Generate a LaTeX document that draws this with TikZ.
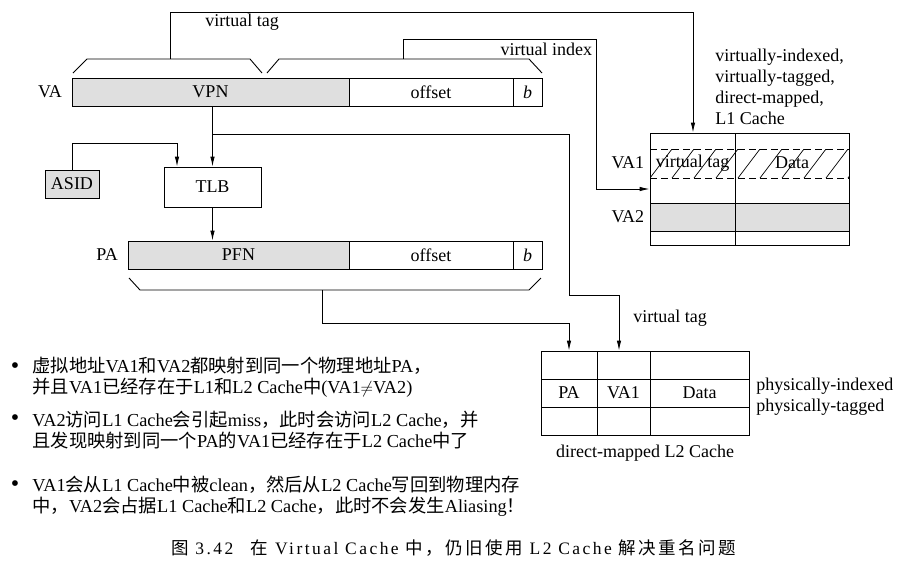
\documentclass[tikz,border=0pt]{standalone}
\usepackage{fontspec}
\setmainfont{Liberation Serif}
\newfontfamily\cjk{Noto Sans CJK SC}
\newfontfamily\capcjk[LetterSpace=14]{Noto Sans CJK SC}
\newfontfamily\caplat[LetterSpace=14]{Liberation Serif}
\usepackage{tikz}
\usetikzlibrary{positioning}
\usetikzlibrary{arrows.meta}
\newcommand{\zh}[1]{{\cjk #1}}
\newcommand{\capzh}[1]{{\capcjk #1}}

\begin{document}
\begin{tikzpicture}[x = 1pt, y = -1pt, line width = 0.9pt,
        >= {Latex[length = 10pt, width = 4.5pt]},
        font = \fontsize{18}{20.7}\selectfont,
        field/.style = {draw = black, minimum height = 28, inner sep = 0},
        greyfield/.style = {field, fill = gray!25},
        note/.style = {anchor = west, align = left, inner sep = 0,
            font = \fontsize{18.3}{20.6}\selectfont},
        dot/.style = {font = \fontsize{24}{24}\selectfont, inner sep = 0}]

        \useasboundingbox (0,0) rectangle (906,566);

        \node (vpn)[greyfield, minimum width = 277] at (210.5,92) {VPN};
        \node (voff)[field, minimum width = 164] at (431,92) {offset};
        \node (vb)[field, minimum width = 29] at (527.5,92) {\textit{b}};
        \node (va)[left = 6pt of vpn] {VA};

        \node (tlb)[field, minimum width = 97, minimum height = 40] at (212.5,187) {TLB};
        \node (asid)[greyfield, minimum width = 54] at (72,184) {ASID};

        \node (pfn)[greyfield, minimum width = 221] at (238.5,255) {PFN};
        \node (poff)[field, minimum width = 164] at (431,255) {offset};
        \node (pb)[field, minimum width = 29] at (527.5,255) {\textit{b}};
        \node (pa)[left = 6pt of pfn] {PA};

        % L1 cache
        \draw[fill = gray!25] (650,203) rectangle (849,231);
        \begin{scope}
            \clip (650,149) rectangle (849,178);
            \foreach \hx in {628,650,...,850}
                \draw[line width = 0.7pt] (\hx,178) -- (\hx+22,149);
        \end{scope}
        \draw[dashed, dash pattern = on 7pt off 4pt] (650,149) -- (849,149);
        \draw[dashed, dash pattern = on 7pt off 4pt] (650,178) -- (849,178);
        \node (l1)[field, minimum width = 199, minimum height = 112] at (749.5,189) {};
        \draw (735,133) -- (735,245);
        \node (l1tag) at (692.5,163) {virtual tag};
        \node (l1data) at (792,163) {Data};
        \node (va1)[anchor = east] at (648,163) {VA1};
        \node (va2)[anchor = east] at (648,217) {VA2};
        \node (l1txt)[anchor = north west, align = left, inner sep = 0] at (715,49)
            {virtually-indexed,\\virtually-tagged,\\direct-mapped,\\L1 Cache};

        % L2 cache
        \node (l2)[field, minimum width = 208, minimum height = 84] at (645,393) {};
        \draw (541,379) -- (749,379);
        \draw (541,407) -- (749,407);
        \draw (597,351) -- (597,435);
        \draw (650,351) -- (650,435);
        \node (l2pa) at (569,393) {PA};
        \node (l2va) at (623.5,393) {VA1};
        \node (l2data) at (699.5,393) {Data};
        \node (l2txt)[below = 6pt of l2] {direct-mapped L2 Cache};
        \node (l2side)[anchor = west, align = left, inner sep = 0] at (756,397)
            {physically-indexed\\physically-tagged};

        % brackets
        \draw (73,73) -- (87,59) -- (250,59) -- (262,73);
        \draw (267,73) -- (279,59) -- (529,59) -- (542,73);
        \draw (129,278) -- (140,290) -- (529,290) -- (541,278);

        \coordinate (tagtop) at (170,59);
        \coordinate (tagcorner) at (693,12);
        \coordinate (idxtop) at (403,59);
        \coordinate (idxcorner) at (596,39);
        \coordinate (asidturn) at (177,143);
        \coordinate (br) at (212.5,134);
        \coordinate (brA) at (569,134);
        \coordinate (brB) at (619,295);
        \coordinate (pabot) at (322,290);
        \coordinate (paturn) at (569,323);

        \draw[->] (tagtop) |- (tagcorner) -- (tagcorner |- l1.north);
        \node (tagtxt) at (242,22) {virtual tag};
        \draw[->] (idxtop) |- (idxcorner) |- (l1.west);
        \node (idxtxt)[anchor = east] at (596,49) {virtual index};

        \draw[->] (vpn.south -| tlb.north) -- (tlb.north);
        \draw[->] (asid.north) |- (asidturn) -- (asidturn |- tlb.north);
        \draw[->] (tlb.south) -- (tlb.south |- pfn.north);
        \draw[->] (br) -- (brA) |- (brB) -- (brB |- l2.north);
        \draw[->] (pabot) |- (paturn) -- (paturn |- l2.north);
        \node (l2tagtxt) at (670,318) {virtual tag};

        % notes
        \node (dot1)[dot] at (15,368) {\textbullet};
        \node (note1)[note] at (32,377)
            {\zh{虚拟地址}VA1\zh{和}VA2\zh{都映射到同一个物理地址}PA\zh{，}\\
             \zh{并且}VA1\zh{已经存在于}L1\zh{和}L2 Cache\zh{中}(VA1$\neq$VA2)};
        \node (dot2)[dot] at (15,420) {\textbullet};
        \node (note2)[note] at (32,430)
            {VA2\zh{访问}L1 Cache\zh{会引起}miss\zh{，此时会访问}L2 Cache\zh{，并}\\
             \zh{且发现映射到同一个}PA\zh{的}VA1\zh{已经存在于}L2 Cache\zh{中了}};
        \node (dot3)[dot] at (15,486) {\textbullet};
        \node (note3)[note] at (32,496)
            {VA1\zh{会从}L1 Cache\zh{中被}clean\zh{，然后从}L2 Cache\zh{写回到物理内存}\\
             \zh{中，}VA2\zh{会占据}L1 Cache\zh{和}L2 Cache\zh{，此时不会发生}Aliasing\zh{！}};

        \node (caption)[font = \caplat\fontsize{17.5}{20}\selectfont] at (453.5,548)
            {\capzh{图}~3.42\quad\capzh{在}~Virtual Cache~\capzh{中，仍旧使用}~L2 Cache~\capzh{解决重名问题}};
    \end{tikzpicture}
\end{document}
